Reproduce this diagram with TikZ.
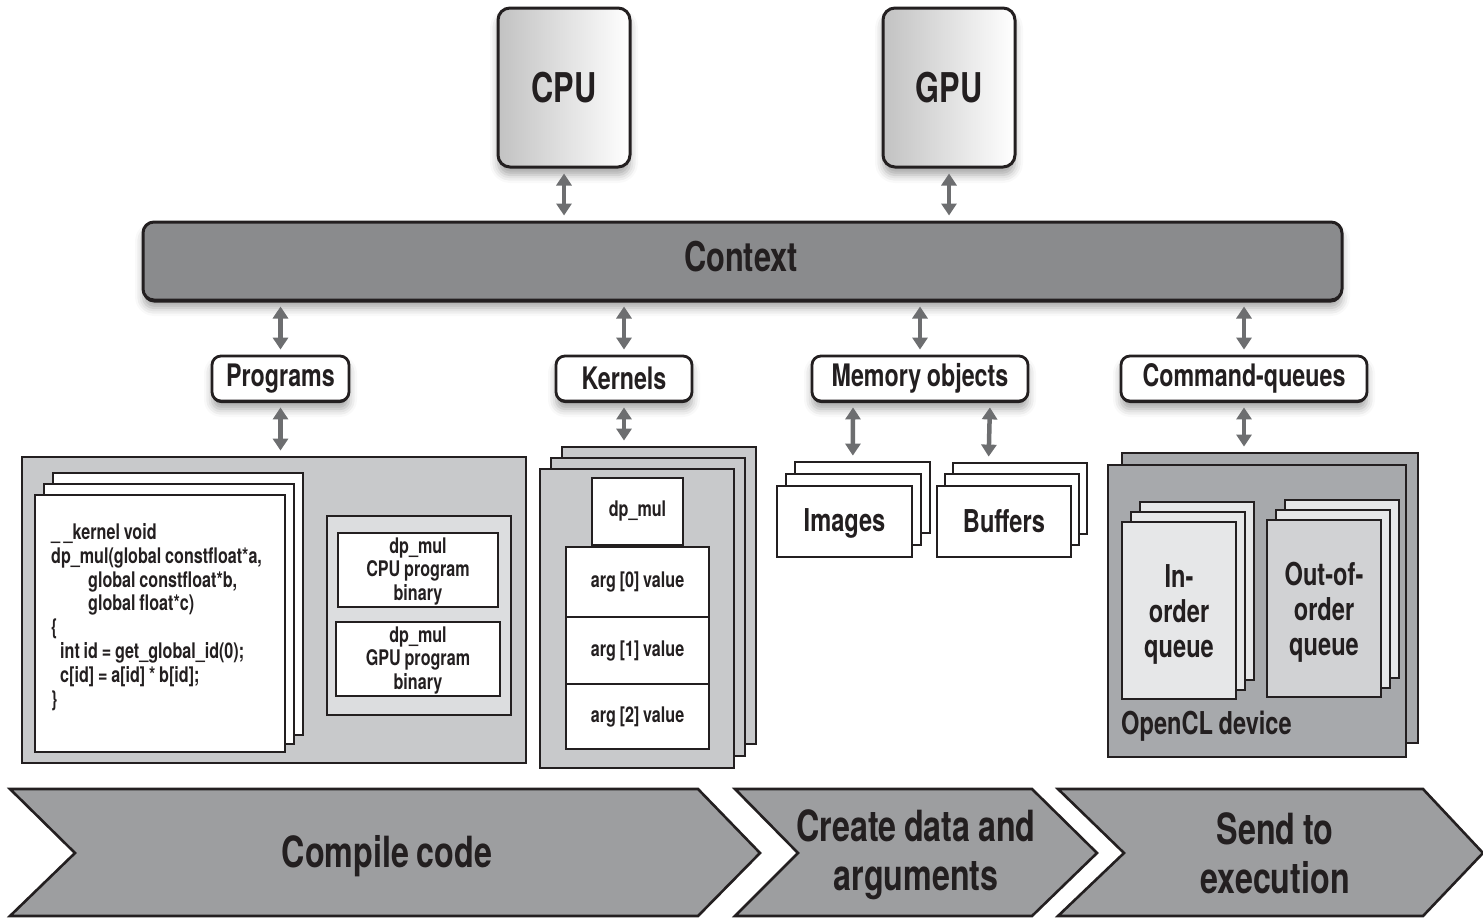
\documentclass[tikz,border=0pt]{standalone}
\usepackage{fontspec}
\setmainfont{TeX Gyre Heros}[FakeStretch=0.75, WordSpace=0.85]
\usetikzlibrary{arrows.meta,shadows,shadows.blur,fit,calc}

\definecolor{ink}{HTML}{231F20}
\definecolor{ctxfill}{HTML}{8A8B8D}
\definecolor{areafill}{HTML}{C8C9CB}
\definecolor{binfill}{HTML}{DCDDDF}
\definecolor{devfill}{HTML}{A7A9AC}
\definecolor{chevfill}{HTML}{9D9EA0}
\definecolor{linkgray}{HTML}{6D6E70}
\definecolor{inq}{HTML}{E6E7E8}
\definecolor{outq}{HTML}{D1D2D4}

\tikzset{
  softshadow/.style={blur shadow={shadow xshift=0pt, shadow yshift=-8pt,
      shadow blur radius=8pt, shadow opacity=35}},
  chip/.style={draw=ink, line width=3pt, rounded corners=12pt,
    minimum width=132pt, minimum height=159pt, inner sep=0pt,
    left color=black!24, right color=white, softshadow,
    font=\fontsize{41}{44}\selectfont\bfseries},
  ctxbar/.style={draw=ink, line width=3pt, rounded corners=11pt,
    fill=ctxfill, minimum width=1199pt, minimum height=78pt, inner sep=0pt,
    softshadow, drop shadow={shadow xshift=0pt, shadow yshift=-2.5pt, fill=ink, opacity=1}},
  labelbox/.style={draw=ink, line width=2.8pt, rounded corners=9pt, fill=white,
    minimum height=45pt, inner sep=0pt, softshadow,
    drop shadow={shadow xshift=0pt, shadow yshift=-2pt, fill=ink, opacity=1},
    font=\fontsize{31}{34}\selectfont\bfseries},
  link/.style={draw=linkgray, line width=4.5pt, shorten <=5pt, shorten >=5pt,
    {Triangle[width=15pt,length=12pt]}-{Triangle[width=15pt,length=12pt]}},
  area/.style={draw=ink, line width=2.8pt, fill=areafill, inner sep=0pt},
  page/.style={draw=ink, line width=2.8pt, fill=white, inner sep=0pt},
  smalltext/.style={font=\fontsize{21.5}{23.5}\selectfont\bfseries, align=center, inner sep=0pt},
  midtext/.style={font=\fontsize{31.5}{35}\selectfont\bfseries, align=center, inner sep=0pt},
  bigtext/.style={font=\fontsize{43}{49}\selectfont\bfseries, align=center, inner sep=0pt},
  chev/.style={draw=ink, line width=2.6pt, fill=chevfill, line join=miter}
}

\begin{document}
\begin{tikzpicture}[x=1pt, y=-1pt, text=ink]
\useasboundingbox (0,0) rectangle (1483,918);

% processors and the shared context
\node[chip] (cpu) at (564,87.5) {CPU};
\node[chip] (gpu) at (949,87.5) {GPU};
\node[ctxbar] (ctx) at (742.5,261) {};
\node[font=\fontsize{41}{44}\selectfont\bfseries, inner sep=0pt] (ctxtxt) at (741,257) {Context};

% context objects
\node[labelbox, minimum width=137pt] (prog) at (280.5,378.5) {\raisebox{-2pt}{Programs}};
\node[labelbox, minimum width=136pt] (kern) at (624,378.5) {Kernels};
\node[labelbox, minimum width=216pt] (mem) at (920,378.5) {\raisebox{-2pt}{Memory objects}};
\node[labelbox, minimum width=246pt] (cmdq) at (1244,378.5) {\raisebox{-2pt}{Command-queues}};

\draw[link] (cpu.south) -- (cpu.south |- ctx.north);
\draw[link] (gpu.south) -- (gpu.south |- ctx.north);
\draw[link] (ctx.south -| prog) -- (prog.north);
\draw[link] (ctx.south -| kern) -- (kern.north);
\draw[link] (ctx.south -| mem) -- (mem.north);
\draw[link] (ctx.south -| cmdq) -- (cmdq.north);

% programs: source and binaries
\node[area, fit={(22,457)(526,763)}] (progarea) {};
\node[page, fit={(53,473)(303,735)}] (codeback) {};
\node[page, fit={(44,484)(294,744)}] (codemid) {};
\node[page, fit={(35,495)(285,752)}] (code) {};
\node[anchor=north west, inner sep=0pt, align=left,
      font=\fontsize{21.5}{23.9}\selectfont\bfseries] (codetxt) at (51,523)
  {\_\,\_kernel void\\
   dp\_mul(global constfloat*a,\\
   \hspace*{37pt}global constfloat*b,\\
   \hspace*{37pt}global float*c)\\
   \{\\
   \hspace*{9pt}int id = get\_global\_id(0);\\
   \hspace*{9pt}c[id] = a[id] * b[id];\\
   \}};
\node[area, fill=binfill, fit={(327,516)(511,715)}] (bingroup) {};
\node[page, fit={(338,533)(498,607)}] (cpubin) {};
\node[smalltext] (cpubintxt) at ([yshift=-1.5pt]cpubin.center) {dp\_mul\\CPU program\\binary};
\node[page, fit={(336,622)(500,696)}] (gpubin) {};
\node[smalltext] (gpubintxt) at ([yshift=-1.5pt]gpubin.center) {dp\_mul\\GPU program\\binary};
\draw[link] (prog.south) -- (prog.south |- progarea.north);

% kernels with their arguments
\node[area, fit={(562,447)(756,744)}] (kback) {};
\node[area, fit={(551,458)(745,756)}] (kmid) {};
\node[area, fit={(540,469)(734,768)}] (kfront) {};
\node[page, fit={(592,478)(683,545)}] (kname) {};
\node[page, fit={(566,547)(709,617)}] (arg0) {};
\node[page, fit={(566,617)(709,684)}] (arg1) {};
\node[page, fit={(566,684)(709,749)}] (arg2) {};
\node[smalltext] (knametxt) at (kname.center) {dp\_mul};
\node[smalltext] (arg0txt) at (arg0.center) {arg [0] value};
\node[smalltext] (arg1txt) at (arg1.center) {arg [1] value};
\node[smalltext] (arg2txt) at (arg2.center) {arg [2] value};
\draw[link] (kern.south) -- (kern.south |- kback.north);

% memory objects
\node[page, fit={(795,462)(930,533)}] (imgback) {};
\node[page, fit={(786,474)(921,545)}] (imgmid) {};
\node[page, fit={(777,486)(912,557)}] (img) {};
\node[midtext] (imgtxt) at ([yshift=-2pt]img.center) {Images};
\node[page, fit={(953,463)(1087,534)}] (bufback) {};
\node[page, fit={(945,474)(1079,545)}] (bufmid) {};
\node[page, fit={(937,486)(1071,557)}] (buf) {};
\node[midtext] (buftxt) at (buf.center) {Buffers};
\draw[link] ($(mem.south west)!0.194!(mem.south east)$) --
  ($(imgback.north west)!0.43!(imgback.north east)$);
\draw[link] ($(mem.south west)!0.82!(mem.south east)$) --
  ($(bufback.north west)!0.27!(bufback.north east)$);

% command-queues on the device
\node[area, fill=devfill, fit={(1122,453)(1418,743)}] (devback) {};
\node[area, fill=devfill, fit={(1108,465)(1406,757)}] (dev) {};
\node[page, fill=inq, fit={(1140,502)(1254,680)}] (inback) {};
\node[page, fill=inq, fit={(1131,512)(1245,690)}] (inmid) {};
\node[page, fill=inq, fit={(1122,522)(1236,699)}] (inq) {};
\node[midtext] (inqtxt) at ([yshift=-4pt]inq.center) {In-\\order\\queue};
\node[page, fill=inq, fit={(1285,500)(1399,678)}] (outback) {};
\node[page, fill=inq, fit={(1276,510)(1390,688)}] (outmid) {};
\node[page, fill=outq, fit={(1267,520)(1381,697)}] (outq) {};
\node[midtext] (outqtxt) at ([yshift=-4pt]outq.center) {Out-of-\\order\\queue};
\node[midtext, anchor=west] (devlabel) at (1121,726) {OpenCL device};
\draw[link] (cmdq.south) -- (cmdq.south |- devback.north);

% workflow steps
\draw[chev] (10,789) -- (698,789) -- (760,853) -- (698,916) -- (10,916) -- (75,853) -- cycle;
\draw[chev] (735,789) -- (1032,789) -- (1097,853) -- (1032,916) -- (735,916) -- (798,853) -- cycle;
\draw[chev] (1058,789) -- (1423,789) -- (1483,853) -- (1423,916) -- (1058,916) -- (1124,853) -- cycle;
\node[bigtext] (step1) at (387,856) {Compile code};
\node[bigtext] (step2) at (916,855) {Create data and\\arguments};
\node[bigtext] (step3) at (1275,853) {Send to\\execution};
\end{tikzpicture}
\end{document}
